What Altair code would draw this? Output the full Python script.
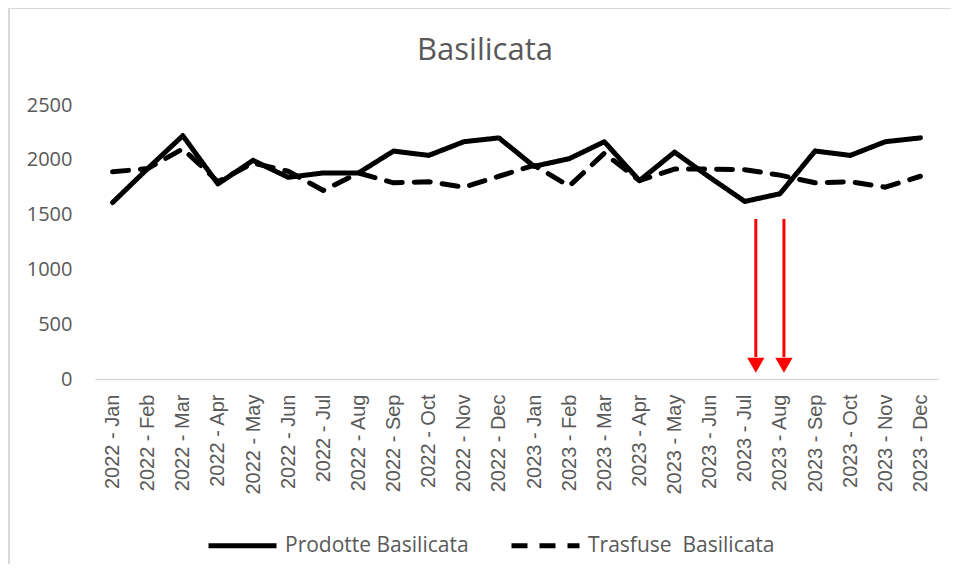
import altair as alt
import pandas as pd

months = [
    "2022 - Jan", "2022 - Feb", "2022 - Mar", "2022 - Apr", "2022 - May", "2022 - Jun",
    "2022 - Jul", "2022 - Aug", "2022 - Sep", "2022 - Oct", "2022 - Nov", "2022 - Dec",
    "2023 - Jan", "2023 - Feb", "2023 - Mar", "2023 - Apr", "2023 - May", "2023 - Jun",
    "2023 - Jul", "2023 - Aug", "2023 - Sep", "2023 - Oct", "2023 - Nov", "2023 - Dec",
]
prodotte = [1610, 1920, 2220, 1780, 1995, 1840, 1880, 1880, 2080, 2040, 2165, 2200,
            1940, 2010, 2165, 1810, 2070, 1840, 1620, 1690, 2080, 2040, 2165, 2200]
trasfuse = [1890, 1920, 2100, 1800, 1970, 1895, 1720, 1880, 1790, 1800, 1750, 1850,
            1950, 1760, 2060, 1810, 1915, 1915, 1910, 1860, 1790, 1800, 1750, 1850]
series_names = ["Prodotte Basilicata", "Trasfuse\u00a0 Basilicata"]
y_ticks = [0, 500, 1000, 1500, 2000, 2500]
title_text = "Basilicata"

arrow_months = ["2023 - Jul", "2023 - Aug"]
arrow_top = [1460, 1460]
arrow_bottom = [200, 200]
arrow_head = [125, 125]

rows = []
for m, p, t in zip(months, prodotte, trasfuse):
    rows.append({"month": m, "value": p, "series": series_names[0]})
    rows.append({"month": m, "value": t, "series": series_names[1]})
df = pd.DataFrame(rows)

W, H = 843, 274
GRAY = "#595959"

x_enc = alt.X("month:N", sort=months, scale=alt.Scale(type="point", padding=0.5),
              axis=alt.Axis(title=None, labelAngle=-90, labelFont="Liberation Sans",
                            labelFontSize=20, labelColor=GRAY, labelPadding=15,
                            ticks=False, domainColor="#d9d9d9", domainWidth=1.5,
                            grid=False, labelOverlap=False))
y_enc = alt.Y("value:Q", scale=alt.Scale(domain=[0, 2500], nice=False),
              axis=alt.Axis(title=None, values=y_ticks, format="d", labelFont="Open Sans",
                            labelFontSize=20, labelColor=GRAY, labelPadding=23,
                            ticks=False, domain=False, grid=False))

lines = alt.Chart(df).mark_line(strokeWidth=5, strokeCap="round", strokeJoin="round",
                                color="black").encode(
    x=x_enc,
    y=y_enc,
    strokeDash=alt.StrokeDash(
        "series:N",
        scale=alt.Scale(domain=series_names, range=[[1, 0], [16, 12]]),
        legend=alt.Legend(title=None, orient="none", legendX=111, legendY=404,
                          direction="horizontal", symbolType="stroke",
                          symbolSize=4624, symbolStrokeWidth=5,
                          symbolStrokeColor="black", labelFont="Open Sans",
                          labelFontSize=21, labelColor=GRAY, labelOffset=6,
                          columnPadding=32, labelLimit=400),
    ),
)

layers = [lines]
for i, off in enumerate([11, 4]):
    adf = pd.DataFrame({"month": [arrow_months[i]], "top": [arrow_top[i]],
                        "bottom": [arrow_bottom[i]], "head": [arrow_head[i]]})
    rule = alt.Chart(adf).mark_rule(color="#ff0000", strokeWidth=3, xOffset=off).encode(
        x=alt.X("month:N", sort=months), y="top:Q", y2="bottom:Q")
    head = alt.Chart(adf).mark_point(shape="triangle-down", filled=True, size=300,
                                     color="#ff0000", opacity=1, xOffset=off).encode(
        x=alt.X("month:N", sort=months), y="head:Q")
    layers += [rule, head]

title = alt.Chart(pd.DataFrame({"t": [title_text]})).mark_text(
    font="Open Sans", fontSize=31, color=GRAY, align="center", baseline="alphabetic"
).encode(text="t:N", x=alt.value(390), y=alt.value(-45))

border_top = alt.Chart(pd.DataFrame({"a": [0]})).mark_rule(color="#d9d9d9", strokeWidth=2).encode(
    x=alt.value(-87), x2=alt.value(870), y=alt.value(-97))
border_left = alt.Chart(pd.DataFrame({"a": [0]})).mark_rule(color="#d9d9d9", strokeWidth=2).encode(
    x=alt.value(-86), y=alt.value(-97), y2=alt.value(480))
layers += [title, border_top, border_left]

chart = alt.layer(*layers).properties(
    width=W, height=H,
    autosize=alt.AutoSizeParams(type="none"),
    padding={"left": 87, "top": 97, "right": 13, "bottom": 185},
    background="white",
).configure_view(stroke=None)

chart.save("out.html", embed_options={"renderer": "svg", "actions": False})
